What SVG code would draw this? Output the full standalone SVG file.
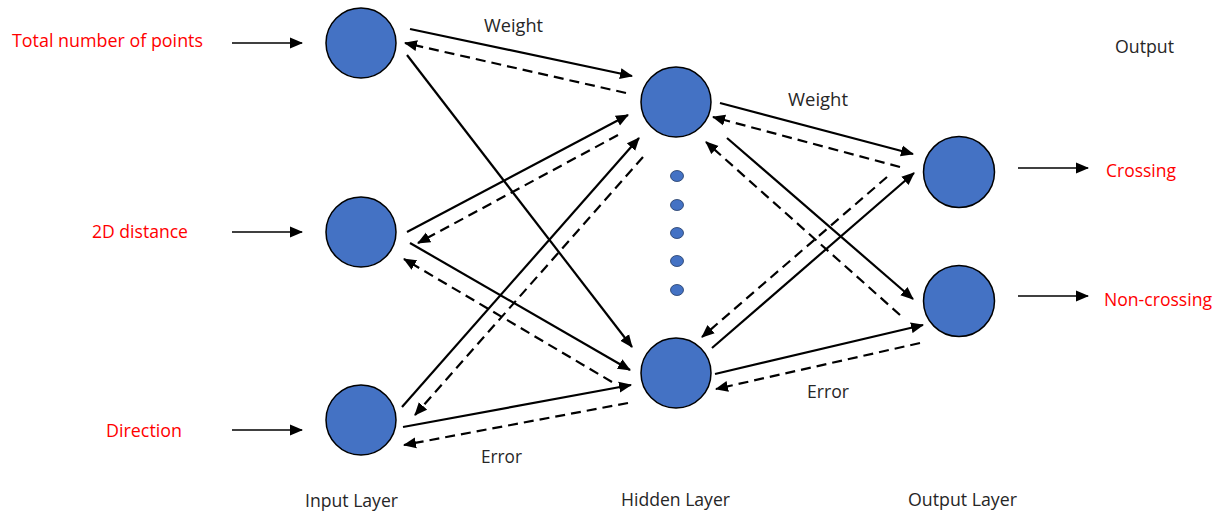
<svg xmlns="http://www.w3.org/2000/svg" width="1230" height="514" viewBox="0 0 1230 514">
  <style>
    .node { fill: #4472C4; stroke: #000; stroke-width: 1.5; }
    .dot { fill: #4472C4; stroke: #1f3864; stroke-width: 0.8; }
    .solid { stroke: #000; stroke-width: 2.2; fill: none; marker-end: url(#arrow); }
    .dashed { stroke: #000; stroke-width: 2.2; fill: none; stroke-dasharray: 10 6; marker-end: url(#arrow); }
    .thin { stroke: #000; stroke-width: 1.5; fill: none; marker-end: url(#arrow); }
    text { font-family: "Open Sans", "Liberation Sans", sans-serif; font-size: 19px; }
    .red { fill: #FF0000; }
    .blk { fill: #262626; }
  </style>
  <defs>
    <marker id="arrow" markerUnits="userSpaceOnUse" markerWidth="14" markerHeight="12" viewBox="0 0 14 12" refX="12" refY="6" orient="auto">
      <path d="M0,0.5 L13,6 L0,11.5 Z" fill="#000"/>
    </marker>
  </defs>
  <rect width="1230" height="514" fill="#fff"/>

  <g id="connectors">
    <!-- input feed arrows -->
    <line class="thin" x1="232" y1="43" x2="302" y2="43"/>
    <line class="thin" x1="232" y1="232" x2="302" y2="232"/>
    <line class="thin" x1="232" y1="430" x2="302" y2="430"/>
    <!-- output arrows -->
    <line class="thin" x1="1018" y1="168" x2="1088" y2="168"/>
    <line class="thin" x1="1018" y1="296" x2="1088" y2="296"/>
    <!-- forward (weight) -->
    <line class="solid" x1="410" y1="29" x2="632" y2="76"/>
    <line class="solid" x1="407" y1="55" x2="632" y2="347"/>
    <line class="solid" x1="407" y1="232" x2="628" y2="115"/>
    <line class="solid" x1="410" y1="243" x2="630" y2="370"/>
    <line class="solid" x1="402" y1="407" x2="639" y2="138"/>
    <line class="solid" x1="403" y1="427" x2="631" y2="385"/>
    <line class="solid" x1="720" y1="103" x2="913" y2="154"/>
    <line class="solid" x1="727" y1="138" x2="913" y2="299"/>
    <line class="solid" x1="712" y1="348" x2="914" y2="173"/>
    <line class="solid" x1="715" y1="374" x2="923" y2="325"/>
    <!-- backward (error) -->
    <line class="dashed" x1="626" y1="93" x2="405" y2="43"/>
    <line class="dashed" x1="618" y1="135" x2="418" y2="243"/>
    <line class="dashed" x1="643" y1="157" x2="415" y2="415"/>
    <line class="dashed" x1="612" y1="382" x2="404" y2="259"/>
    <line class="dashed" x1="628" y1="403" x2="404" y2="445"/>
    <line class="dashed" x1="900" y1="167" x2="713" y2="117"/>
    <line class="dashed" x1="900" y1="315" x2="706" y2="142"/>
    <line class="dashed" x1="887" y1="177" x2="702" y2="337"/>
    <line class="dashed" x1="920" y1="343" x2="716" y2="389"/>
  </g>

  <g id="input1"><circle class="node" cx="361" cy="43" r="35"/></g>
  <g id="input2"><circle class="node" cx="361" cy="232" r="35"/></g>
  <g id="input3"><circle class="node" cx="361" cy="420" r="35"/></g>
  <g id="hidden1"><circle class="node" cx="676" cy="102" r="35"/></g>
  <g id="hidden-dots">
    <ellipse class="dot" cx="677" cy="176" rx="6.5" ry="5.5"/>
    <ellipse class="dot" cx="677" cy="205" rx="6.5" ry="5.5"/>
    <ellipse class="dot" cx="677" cy="233" rx="6.5" ry="5.5"/>
    <ellipse class="dot" cx="677" cy="261" rx="6.5" ry="5.5"/>
    <ellipse class="dot" cx="677" cy="290" rx="6.5" ry="5.5"/>
  </g>
  <g id="hidden2"><circle class="node" cx="676" cy="373" r="35"/></g>
  <g id="output1"><circle class="node" cx="959" cy="172" r="35.5"/></g>
  <g id="output2"><circle class="node" cx="959" cy="301" r="35.5"/></g>

  <g id="labels">
    <text class="red" x="12" y="47" textLength="191" lengthAdjust="spacingAndGlyphs">Total number of points</text>
    <text class="red" x="92" y="238" textLength="96" lengthAdjust="spacingAndGlyphs">2D distance</text>
    <text class="red" x="106" y="437" textLength="76" lengthAdjust="spacingAndGlyphs">Direction</text>
    <text class="blk" x="484" y="32" textLength="59" lengthAdjust="spacingAndGlyphs">Weight</text>
    <text class="blk" x="788" y="106" textLength="60" lengthAdjust="spacingAndGlyphs">Weight</text>
    <text class="blk" x="481" y="463" textLength="41" lengthAdjust="spacingAndGlyphs">Error</text>
    <text class="blk" x="807" y="398" textLength="42" lengthAdjust="spacingAndGlyphs">Error</text>
    <text class="blk" x="1115" y="53" textLength="59" lengthAdjust="spacingAndGlyphs">Output</text>
    <text class="red" x="1106" y="177" textLength="70" lengthAdjust="spacingAndGlyphs">Crossing</text>
    <text class="red" x="1104" y="306" textLength="108" lengthAdjust="spacingAndGlyphs">Non-crossing</text>
    <text class="blk" x="305" y="507" textLength="93" lengthAdjust="spacingAndGlyphs">Input Layer</text>
    <text class="blk" x="621" y="506" textLength="109" lengthAdjust="spacingAndGlyphs">Hidden Layer</text>
    <text class="blk" x="908" y="506" textLength="109" lengthAdjust="spacingAndGlyphs">Output Layer</text>
  </g>
</svg>
